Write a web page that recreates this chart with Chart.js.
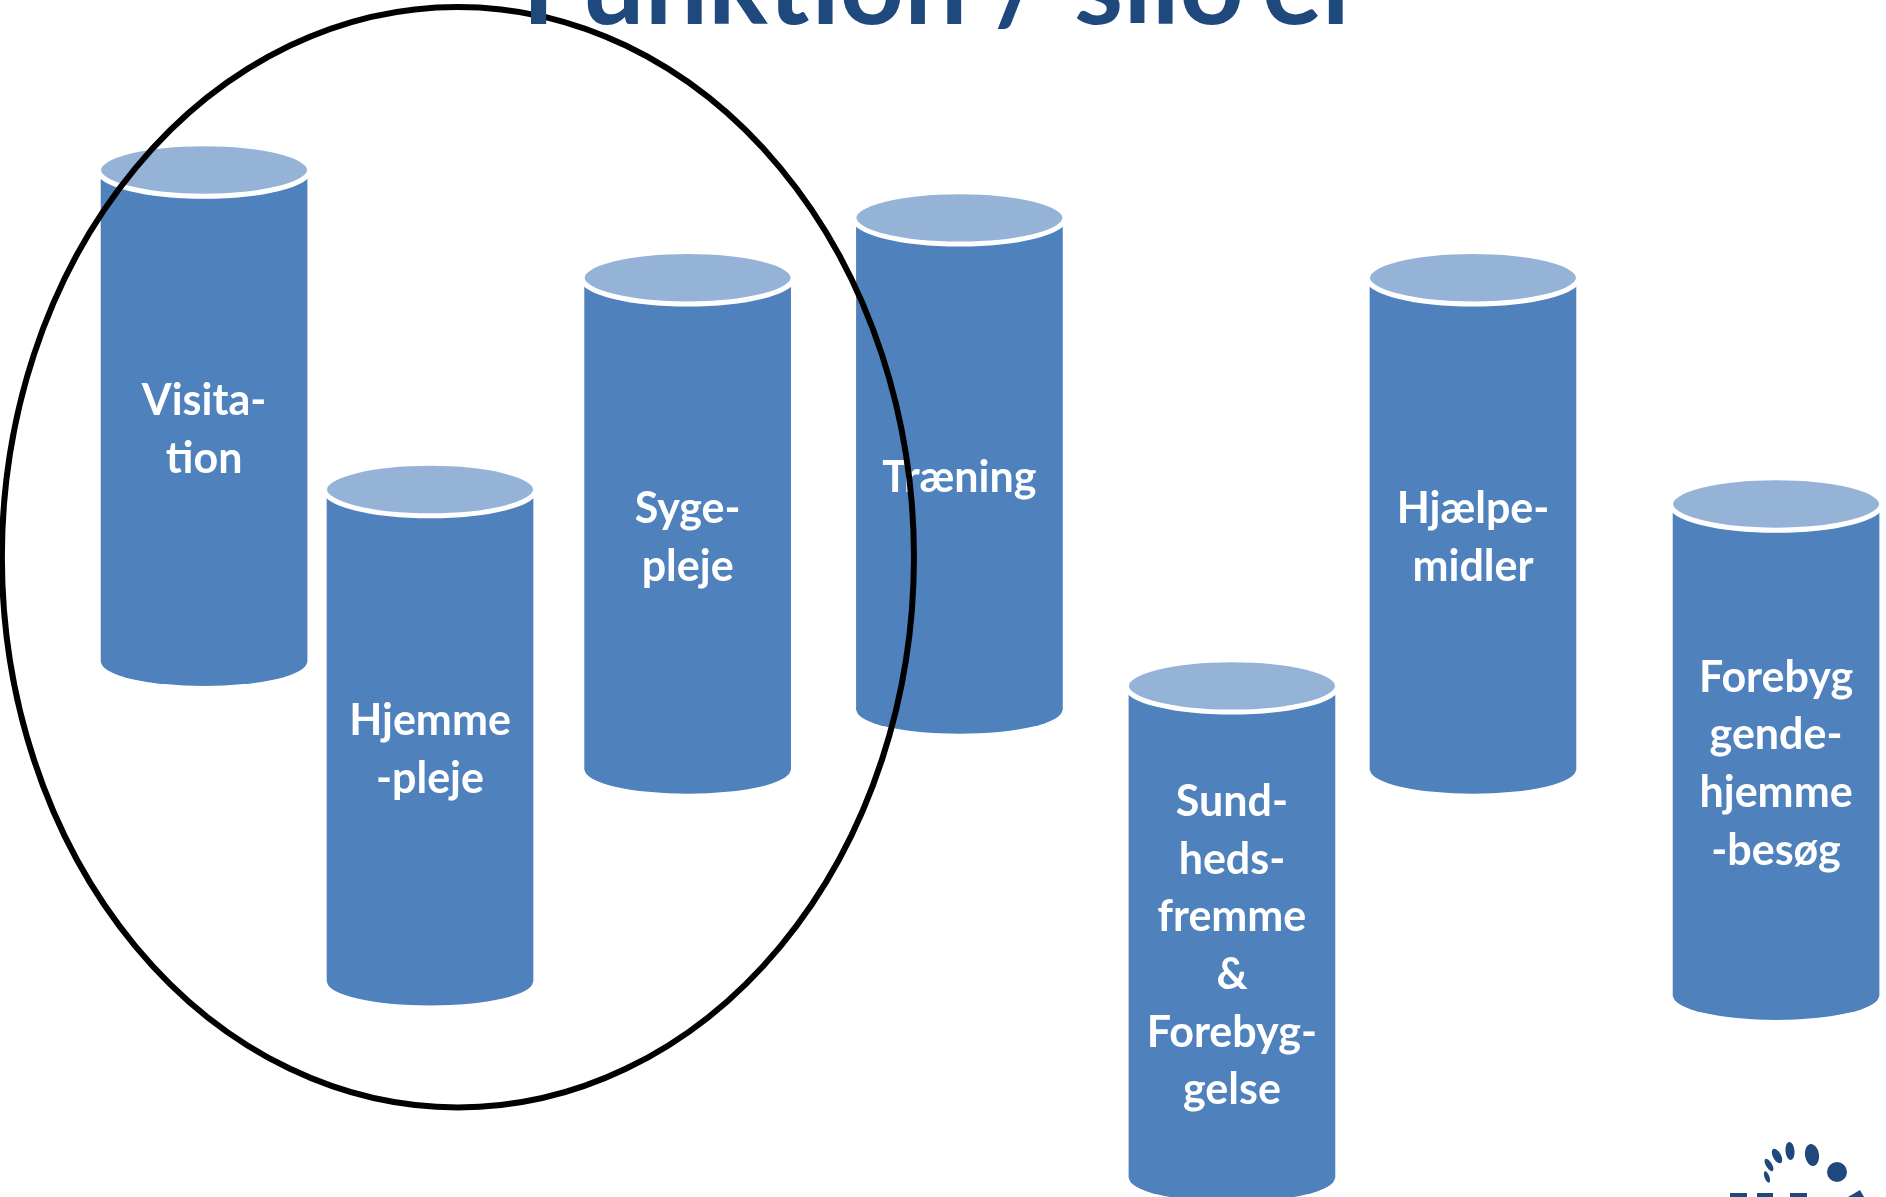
<!DOCTYPE html>
<html><head><meta charset="utf-8">
<script src="https://cdn.jsdelivr.net/npm/chart.js@4/dist/chart.umd.min.js"></script>
<style>html,body{margin:0;padding:0;background:#fff;overflow:hidden}#wrap{width:1886px;height:1197px;position:relative}canvas{display:block}</style>
</head><body><div id="wrap"><canvas id="c" width="1886" height="1197"></canvas></div>
<script>
// ---- data (slide units: % of slide width / height) ----
const title = "Funktion / silo'er";
const categories = ["Visitation","Hjemmepleje","Sygepleje","Træning","Sundhedsfremme & Forebyggelse","Hjælpemidler","Forebyggende hjemmebesøg"];
const labelLines = [["Visita-","tion"],["Hjemme","-pleje"],["Syge-","pleje"],["Træning"],["Sund-","heds-","fremme","&","Forebyg-","gelse"],["Hjælpe-","midler"],["Forebyg","gende-","hjemme","-besøg"]];
const columnPositions = [10.82, 22.80, 36.46, 50.87, 65.32, 78.10, 94.17];
const siloTops    = [14.2, 40.9, 23.2, 18.2, 57.3, 23.2, 42.1];
const siloBottoms = [55.3, 82.0, 64.3, 59.3, 98.4, 64.3, 83.2];
const groupEllipse = {cx: 24.28, cy: 46.55, rx: 24.18, ry: 45.97};

const BODY = '#4F81BD', CAP = '#95B3D7', DARK = '#1F497D';

const siloPlugin = {
  id: 'silo',
  afterDatasetsDraw(chart) {
    const ctx = chart.ctx;
    const meta = chart.getDatasetMeta(0);
    meta.data.forEach((bar, i) => {
      const p = bar.getProps(['x','y','base','width'], true);
      const top = Math.min(p.y, p.base), bot = Math.max(p.y, p.base);
      const rx = p.width / 2, ry = p.width * 0.1165;
      ctx.save();
      // bottom rounded edge
      ctx.fillStyle = BODY;
      ctx.beginPath(); ctx.ellipse(p.x, bot, rx, ry, 0, 0, Math.PI * 2); ctx.fill();
      // top cap
      ctx.beginPath(); ctx.ellipse(p.x, top, rx + 2.5, ry + 2.2, 0, 0, Math.PI * 2);
      ctx.fillStyle = CAP; ctx.fill();
      ctx.lineWidth = 5; ctx.strokeStyle = '#fff'; ctx.stroke();
      // label
      const lines = labelLines[i];
      const lh = 57.7;
      const mid = (top + bot) / 2 + 14.5;
      ctx.fillStyle = '#fff';
      ctx.font = 'bold 43px Lato, "Open Sans", sans-serif';
      ctx.textAlign = 'center'; ctx.textBaseline = 'middle';
      lines.forEach((t, k) => {
        ctx.fillText(t, p.x, mid + (k - (lines.length - 1) / 2) * lh);
      });
      ctx.restore();
    });
  },
  afterDraw(chart) {
    const ctx = chart.ctx, xs = chart.scales.x, ys = chart.scales.y;
    ctx.save();
    // grouping ellipse
    const cx = xs.getPixelForValue(groupEllipse.cx), cy = ys.getPixelForValue(groupEllipse.cy);
    const rx = Math.abs(xs.getPixelForValue(groupEllipse.cx + groupEllipse.rx) - cx);
    const ry = Math.abs(ys.getPixelForValue(groupEllipse.cy + groupEllipse.ry) - cy);
    ctx.beginPath(); ctx.ellipse(cx, cy, rx, ry, 0, 0, Math.PI * 2);
    ctx.lineWidth = 6; ctx.strokeStyle = '#000'; ctx.stroke();
    // title (cut by the top edge)
    ctx.fillStyle = DARK;
    ctx.font = 'bold 112px Lato, "Open Sans", sans-serif';
    ctx.textAlign = 'center'; ctx.textBaseline = 'alphabetic';
    ctx.fillText(title, 943, 24);
    // logo fragment bottom-right
    const blobs = [[1767,1177,2.5,6,-0.35],[1769,1165,3,7,-0.55],[1777,1156,4,8,-0.5],[1790,1151,4.5,9,-0.1],[1812,1155,7,11,-0.15],[1837,1172,10,10,0]];
    blobs.forEach(b => { ctx.beginPath(); ctx.ellipse(b[0], b[1], b[2], b[3], b[4], 0, Math.PI*2); ctx.fill(); });
    ctx.fillRect(1730, 1193, 17, 4); ctx.fillRect(1757, 1193, 16, 4); ctx.fillRect(1790, 1193, 17, 4);
    ctx.beginPath(); ctx.moveTo(1848,1197); ctx.lineTo(1860,1190); ctx.lineTo(1864,1197); ctx.fill();
    ctx.restore();
  }
};

new Chart(document.getElementById('c'), {
  type: 'bar',
  data: {
    datasets: [{
      label: 'Silo',
      data: columnPositions.map((x, i) => ({x: x, y: [siloTops[i], siloBottoms[i]]})),
      backgroundColor: BODY,
      borderWidth: 0,
      borderSkipped: false,
      barThickness: 206
    }]
  },
  options: {
    responsive: false, animation: false, devicePixelRatio: 1,
    layout: {padding: 0},
    plugins: {legend: {display: false}, tooltip: {enabled: false}, title: {display: false}},
    scales: {
      x: {type: 'linear', min: 0, max: 100, offset: false, display: false},
      y: {type: 'linear', min: 0, max: 100, reverse: true, offset: false, display: false}
    }
  },
  plugins: [siloPlugin]
});
</script></body></html>
